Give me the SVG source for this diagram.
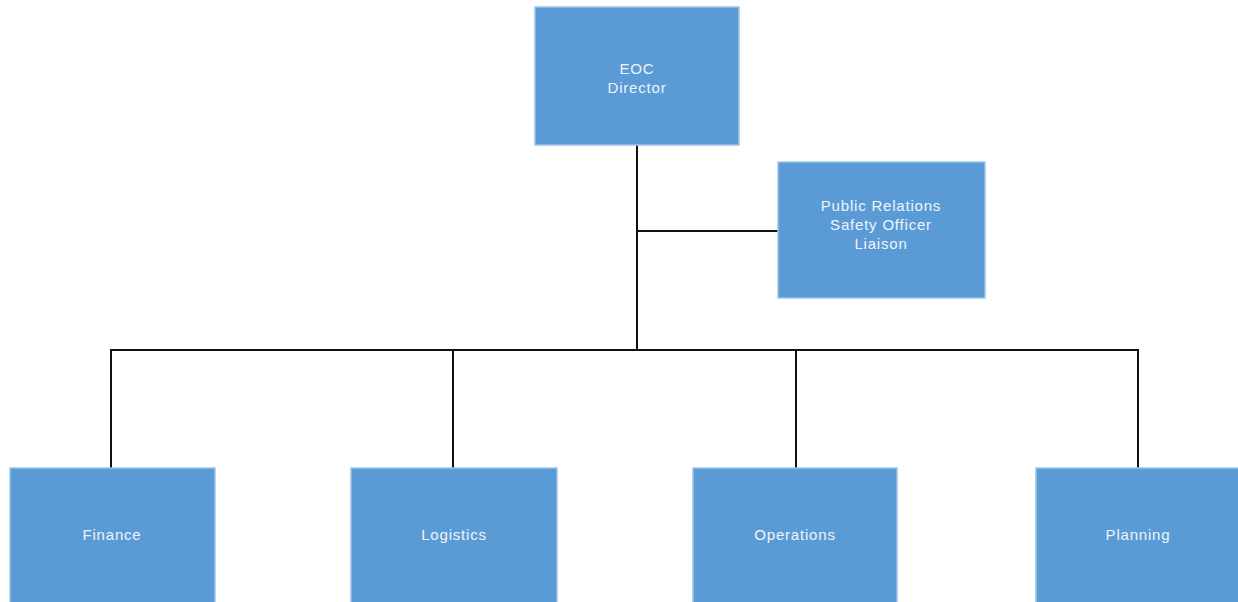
<svg xmlns="http://www.w3.org/2000/svg" width="1238" height="602" viewBox="0 0 1238 602">
<style>
.box{fill:#5b9bd5;stroke:#9fc5e8;stroke-width:1.5}
.lbl{font-family:"Liberation Sans",Arial,sans-serif;font-size:15px;letter-spacing:0.8px;fill:#eef4fb;text-anchor:middle}
.con{fill:none;stroke:#111;stroke-width:2}
</style>
<rect width="1238" height="602" fill="#fff"/>
<g id="connectors">
<path class="con" d="M637 145 V350"/>
<path class="con" d="M637 231 H778"/>
<path class="con" d="M111 468 V350 H1138 V468"/>
<path class="con" d="M453 350 V468"/>
<path class="con" d="M796 350 V468"/>
</g>
<g id="eoc">
<rect class="box" x="535" y="7" width="204" height="138"/>
<text class="lbl" x="637" y="74">EOC</text>
<text class="lbl" x="637" y="93">Director</text>
</g>
<g id="pr">
<rect class="box" x="778" y="162" width="207" height="136"/>
<text class="lbl" x="881" y="211">Public Relations</text>
<text class="lbl" x="881" y="230">Safety Officer</text>
<text class="lbl" x="881" y="249">Liaison</text>
</g>
<g id="finance">
<rect class="box" x="10" y="468" width="205" height="140"/>
<text class="lbl" x="112" y="540">Finance</text>
</g>
<g id="logistics">
<rect class="box" x="351" y="468" width="206" height="140"/>
<text class="lbl" x="454" y="540">Logistics</text>
</g>
<g id="operations">
<rect class="box" x="693" y="468" width="204" height="140"/>
<text class="lbl" x="795" y="540">Operations</text>
</g>
<g id="planning">
<rect class="box" x="1036" y="468" width="206" height="140"/>
<text class="lbl" x="1138" y="540">Planning</text>
</g>
</svg>
